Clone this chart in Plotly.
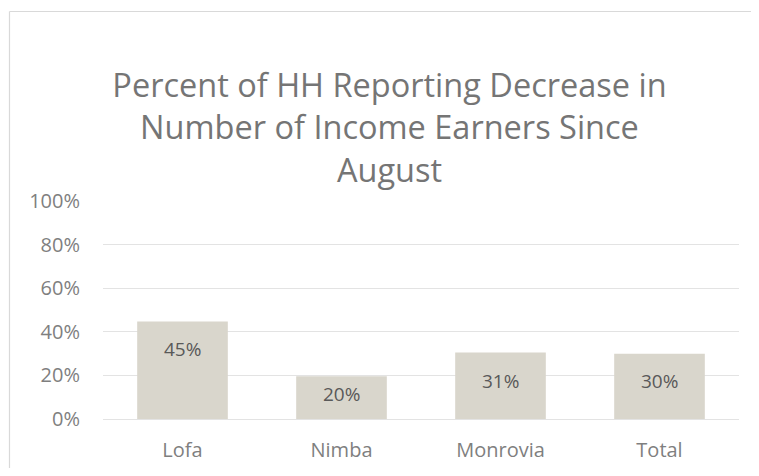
import plotly.graph_objects as go

categories = ["Lofa", "Nimba", "Monrovia", "Total"]
values = [0.447, 0.196, 0.305, 0.299]
labels = ["45%", "20%", "31%", "30%"]
label_shift = [-27, -18, -28, -27]
tick_vals = [0, 0.2, 0.4, 0.6, 0.8, 1.0]
tick_text = ["0%", "20%", "40%", "60%", "80%", "100%"]

# page has an 8px body margin; figure covers page pixels 8..751 x 8..468
OFF = 8
W, H = 743, 460
L, R, T, B = 95, 12, 193, 49
pw, ph = W - L - R, H - T - B

grey = "#7f7f7f"
font = "Open Sans"

fig = go.Figure()
fig.add_trace(go.Bar(
    x=categories, y=values,
    marker=dict(color="#d9d6cc", line=dict(width=0)),
    hoverinfo="skip",
))

for c, v, t, s in zip(categories, values, labels, label_shift):
    fig.add_annotation(x=c, y=v, text=t, showarrow=False, yshift=s,
                       xref="x", yref="y", yanchor="middle",
                       font=dict(family=font, size=19, color="#595959"))

def px_x(p):
    return (p - OFF - L) / pw

def px_y(p):
    return (H - B - (p - OFF)) / ph

border = dict(color="#d9d9d9", width=1.2)
fig.add_shape(type="line", xref="paper", yref="paper",
              x0=px_x(9.5), x1=px_x(W + OFF), y0=px_y(11.5), y1=px_y(11.5),
              line=border, layer="below")
fig.add_shape(type="line", xref="paper", yref="paper",
              x0=px_x(9.5), x1=px_x(9.5), y0=px_y(11.5), y1=px_y(H + OFF),
              line=border, layer="below")

fig.update_layout(
    width=W, height=H,
    margin=dict(l=L, r=R, t=T, b=B, pad=0, autoexpand=False),
    paper_bgcolor="white", plot_bgcolor="white",
    showlegend=False,
    bargap=0.43,
    title=dict(
        text="Percent of HH Reporting Decrease in<br>Number of Income Earners Since<br>August",
        x=(389.5 - OFF) / W, xref="container", xanchor="center",
        y=1 - 89 / H, yref="container", yanchor="middle",
        font=dict(family=font, size=32.5, color="#757575"),
    ),
    font=dict(family=font, color=grey),
    xaxis=dict(
        automargin=False,
        showgrid=False, showline=False, zeroline=False, ticks="",
        tickfont=dict(family=font, size=20, color=grey),
        ticklabelstandoff=17,
    ),
    yaxis=dict(
        automargin=False,
        range=[0, 1.0], tickvals=tick_vals, ticktext=tick_text,
        showgrid=True, gridcolor="#e3e3e3", gridwidth=1.3,
        zeroline=True, zerolinecolor="#e3e3e3", zerolinewidth=1.3,
        showline=False, ticks="",
        tickfont=dict(family=font, size=20, color=grey),
        ticklabelstandoff=22,
    ),
)

fig.write_html("out.html")
